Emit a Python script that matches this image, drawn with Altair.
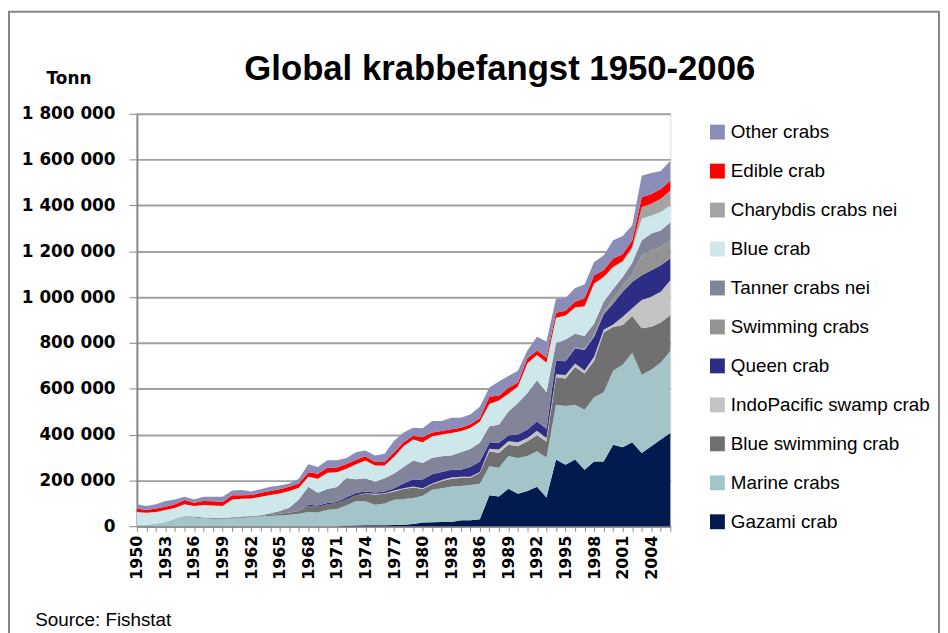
import altair as alt
import pandas as pd

years = list(range(1950, 2007))

# values in thousand tonnes, 1950..2006
gazami = [0]*22 + [2, 3, 4, 4, 4, 5, 6, 10, 16, 17, 18, 19, 26, 26, 30,
                   135, 130, 164, 142, 154, 172, 125, 291, 268, 291, 247, 282, 282,
                   356, 345, 367, 320, 349, 378, 407]
marine = [4, 7, 12, 18, 30, 42, 38, 34, 31, 31, 34, 36, 40, 42, 45, 47, 50, 55, 62, 60,
          72, 75, 88, 107, 105, 90, 95, 111, 113, 113, 117, 142, 148, 154, 150, 154, 155,
          127, 125, 142, 156, 152, 155, 175, 239, 257, 239, 261, 281, 303,
          323, 360, 390, 341, 334, 337, 358]
blue_swimming = [0]*8 + [2, 2, 2, 3, 2, 3, 5, 7, 10, 12, 27, 25,
                         24, 25, 28, 25, 33, 44, 43, 36, 43, 46, 29, 24, 30, 34, 34, 32, 48,
                         65, 65, 50, 51, 65, 70, 70, 120, 120, 165, 158, 159, 260,
                         191, 173, 161, 203, 188, 174, 157]
indopacific = [0]*24 + [2, 4, 2, 4, 4, 4, 4, 4, 6, 6, 6, 4, 4,
                        11, 15, 15, 18, 14, 20, 15, 13, 15, 15, 14, 18, 12,
                        10, 36, 33, 123, 130, 134, 152]
queen = [0]*18 + [5, 6, 5, 6, 8, 10, 8, 5, 8, 10, 21, 31, 38, 40, 35, 34, 31, 43, 45,
                  25, 29, 25, 33, 37, 40, 40, 59, 60, 67, 89, 87, 68,
                  92, 109, 115, 108, 116, 116, 94]
swimming = [0]*46 + [5, 5, 8, 10, 20, 25, 34, 87, 87, 80, 80]
tanner = [0, 0, 0, 0, 3, 3, 4, 4, 3, 3, 3, 3, 3, 3, 7, 13, 21, 50, 78, 55,
          62, 65, 84, 60, 57, 47, 57, 64, 72, 83, 72, 72, 68, 62, 76, 78, 82,
          73, 79, 105, 138, 159, 180, 160, 78, 95, 58, 56, 50, 45,
          43, 40, 50, 66, 73, 72, 79]
blue_crab = [58, 52, 50, 53, 47, 51, 46, 55, 55, 52, 78, 78, 76, 81, 79, 76, 73, 51, 44, 61,
             70, 65, 41, 65, 78, 71, 56, 73, 90, 91, 91, 94, 95, 98, 91, 92, 92,
             97, 106, 77, 72, 130, 110, 130, 110, 105, 115, 130, 174, 108,
             93, 65, 62, 94, 79, 80, 73]
charybdis = [0]*50 + [4, 5, 7, 51, 51, 58, 65]
edible = [15, 12, 15, 14, 16, 18, 15, 17, 18, 18, 18, 15, 15, 17, 18, 18, 18, 19, 20, 22,
          22, 20, 21, 20, 18, 15, 15, 20, 17, 17, 21, 16, 16, 16, 16, 16, 15,
          33, 20, 25, 17, 22, 20, 21, 22, 20, 25, 35, 36, 29,
          36, 29, 29, 43, 43, 43, 43]
other = [19, 17, 19, 25, 21, 15, 14, 19, 20, 23, 21, 23, 16, 15, 18, 17, 15, 20, 34, 30,
         33, 32, 26, 33, 25, 29, 36, 50, 43, 35, 40, 50, 43, 50, 43, 43, 50,
         39, 63, 53, 51, 34, 60, 70, 62, 56, 60, 60, 58, 65,
         80, 80, 65, 94, 92, 78, 87]

# stacking order, bottom to top
series_names = ["Gazami crab", "Marine crabs", "Blue swimming crab", "IndoPacific swamp crab",
                "Queen crab", "Swimming crabs", "Tanner crabs nei", "Blue crab",
                "Charybdis crabs nei", "Edible crab", "Other crabs"]
series_values = [gazami, marine, blue_swimming, indopacific, queen, swimming, tanner,
                 blue_crab, charybdis, edible, other]
series_colors = ["#001A4E", "#A3C5C9", "#707070", "#C3C3C3", "#2E2D85", "#939393",
                 "#82859A", "#CDE7EA", "#A4A4A4", "#FF0000", "#8C8CB9"]

y_ticks = [0, 200000, 400000, 600000, 800000, 1000000, 1200000, 1400000, 1600000, 1800000]
title_text = "Global krabbefangst 1950-2006"

rows = []
for idx, (name, vals) in enumerate(zip(series_names, series_values)):
    for yr, v in zip(years, vals):
        rows.append({"year": yr, "series": name, "tonnes": v * 1000, "stack": idx})
df = pd.DataFrame(rows)

legend_order = series_names[::-1]
legend_colors = series_colors[::-1]

W, H = 538, 416
PL, PT, PR, PB = 130, 104, 272, 105

area = alt.Chart(df).mark_area(opacity=1, strokeWidth=0).encode(
    x=alt.X("year:Q",
            scale=alt.Scale(domain=[1950, 2006], nice=False, zero=False),
            axis=alt.Axis(values=years, grid=False,
                          labelExpr="datum.value % 3 == 0 ? format(datum.value, 'd') : ''",
                          labelAngle=270, labelOverlap=False, labelBound=False,
                          labelFont="DejaVu Sans", labelFontWeight="bold", labelFontSize=16,
                          labelColor="#000000", labelPadding=4,
                          domainColor="#868686", domainWidth=2,
                          tickColor="#868686", tickWidth=1, tickSize=5,
                          title="Source: Fishstat", titleX=-103, titleY=94,
                          titleAlign="left", titleAngle=0, titleBaseline="middle",
                          titleFont="Liberation Sans", titleFontWeight="normal",
                          titleFontSize=19, titleColor="#000000")),
    y=alt.Y("tonnes:Q", stack="zero",
            scale=alt.Scale(domain=[0, 1800000], nice=False),
            axis=alt.Axis(values=y_ticks,
                          labelExpr="replace(replace(format(datum.value, ','), ',', ' '), ',', ' ')",
                          labelFont="DejaVu Sans", labelFontWeight="bold", labelFontSize=17,
                          labelColor="#000000", labelPadding=14,
                          domainColor="#868686", domainWidth=2,
                          tickColor="#868686", tickWidth=1, tickSize=8,
                          gridColor="#A0A0A0", gridWidth=2,
                          title="Tonn", titleX=-69, titleY=-36, titleAngle=0,
                          titleAlign="center", titleBaseline="middle",
                          titleFont="DejaVu Sans", titleFontWeight="bold",
                          titleFontSize=17, titleColor="#000000")),
    color=alt.Color("series:N",
                    scale=alt.Scale(domain=legend_order, range=legend_colors),
                    legend=alt.Legend(orient="none", legendX=576, legendY=9,
                                      title=None, symbolType="square", symbolSize=225,
                                      symbolStrokeWidth=0, symbolOpacity=1,
                                      labelFont="Liberation Sans", labelFontSize=19,
                                      labelColor="#000000", labelOffset=4,
                                      rowPadding=19.3, labelLimit=300)),
    order=alt.Order("stack:Q", sort="ascending"),
)

frame = alt.Chart(pd.DataFrame({"f": [0]})).mark_rect(
    fill="#ffffff", fillOpacity=0, stroke="#878787", strokeWidth=2
).encode(
    x=alt.value(-129), x2=alt.value(W + PR - 1),
    y=alt.value(-103), y2=alt.value(H + PB + 20),
)

title = alt.Chart(pd.DataFrame({"t": [title_text]})).mark_text(
    font="'Liberation Sans Narrow', 'Liberation Sans', sans-serif", fontSize=35,
    fontWeight="bold", color="#000000", align="center", baseline="alphabetic"
).encode(
    text="t:N", x=alt.value(366), y=alt.value(-34),
)

chart = alt.layer(frame, area, title).properties(
    width=W, height=H,
    autosize=alt.AutoSizeParams(type="none"),
    padding={"left": PL, "top": PT, "right": PR, "bottom": PB},
).configure_view(strokeWidth=0).configure(background="#ffffff")

chart.save("out.html", embed_options={"renderer": "svg", "actions": False})
